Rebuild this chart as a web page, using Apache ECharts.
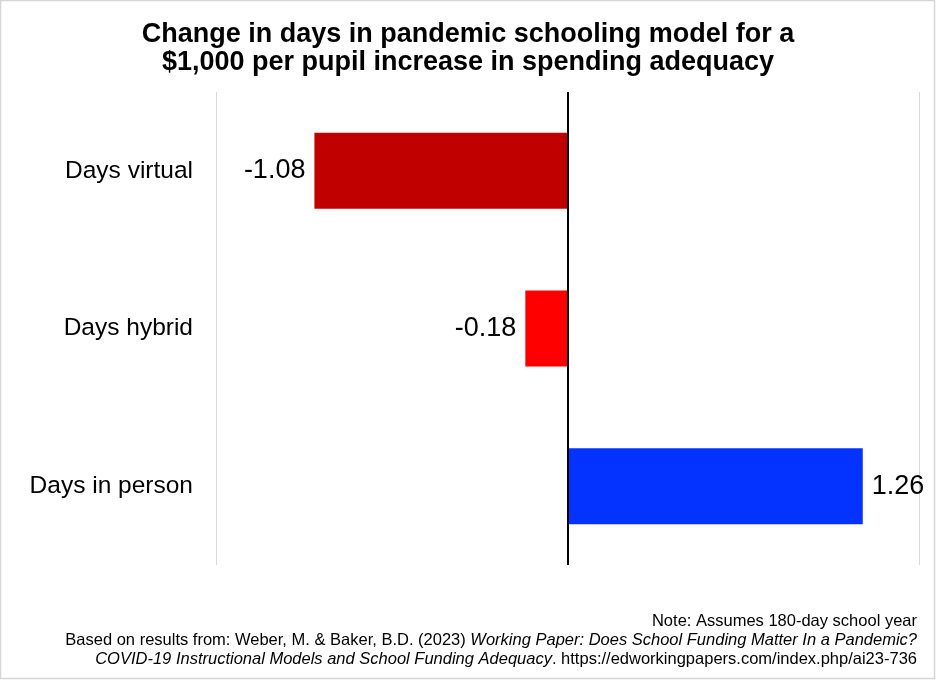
<!DOCTYPE html>
<html><head><meta charset="utf-8">
<script src="https://cdn.jsdelivr.net/npm/echarts@6/dist/echarts.min.js"></script>
<style>html,body{margin:0;padding:0;background:#fff}#c{width:936px;height:680px}</style>
</head><body><div id="c"></div>
<script>
const categories = ['Days virtual', 'Days hybrid', 'Days in person'];
const values = [-1.08, -0.18, 1.26];
const barColors = ['#C00000', '#FF0000', '#0433FF'];
const xTicks = [-1.5, 0, 1.5];

const chart = echarts.init(document.getElementById('c'), null, {renderer: 'canvas'});
const FF = 'Liberation Sans, Arial, sans-serif';
const FS = 16.5;
chart.setOption({
  animation: false,
  backgroundColor: '#fff',
  title: {
    text: 'Change in days in pandemic schooling model for a\n$1,000 per pupil increase in spending adequacy',
    left: 'center', top: 16,
    textStyle: {fontFamily: FF, fontSize: 27, fontWeight: 'bold', color: '#000', lineHeight: 28}
  },
  grid: {left: 216, right: 17, top: 92, bottom: 115, containLabel: false},
  xAxis: {
    type: 'value', min: xTicks[0], max: xTicks[2], interval: 1.5,
    axisLabel: {show: false}, axisTick: {show: false}, axisLine: {show: false},
    splitLine: {show: true, lineStyle: {color: ['#d9d9d9', 'rgba(0,0,0,0)', '#d9d9d9'], width: 1}}
  },
  yAxis: {
    type: 'category', data: categories, inverse: true,
    axisLine: {show: false, onZero: false}, axisTick: {show: false},
    axisLabel: {fontFamily: FF, fontSize: 24.5, color: '#000', margin: 23}
  },
  series: [{
    type: 'bar', barWidth: 76,
    data: values.map((v, i) => ({
      value: v,
      itemStyle: {color: barColors[i]},
      label: {position: v < 0 ? 'left' : 'right'}
    })),
    label: {show: true, fontFamily: FF, fontSize: 27, color: '#000', distance: 9,
      formatter: p => p.value.toFixed(2)},
    markLine: {
      silent: true, symbol: 'none', label: {show: false},
      lineStyle: {color: '#000', width: 2, type: 'solid'},
      data: [{xAxis: 0}]
    }
  }],
  graphic: [
    {type: 'rect', shape: {x: 0.5, y: 0.5, width: 934, height: 678},
     style: {fill: 'none', stroke: '#d6d6d6', lineWidth: 1.5}, silent: true},
    {type: 'text', right: 19, top: 613, style: {
      text: 'Note: Assumes 180-day school year', fontFamily: FF, fontSize: FS, fill: '#000', align: 'right'}},
    {type: 'text', right: 19, top: 632, style: {
      text: '{n|Based on results from: Weber, M. & Baker, B.D. (2023) }{i|Working Paper: Does School Funding Matter In a Pandemic?}',
      rich: {n: {fontFamily: FF, fontSize: FS, fill: '#000'}, i: {fontFamily: FF, fontSize: FS, fontStyle: 'italic', fill: '#000'}}}},
    {type: 'text', right: 19, top: 651, style: {
      text: '{i|COVID-19 Instructional Models and School Funding Adequacy}{n|. https://edworkingpapers.com/index.php/ai23-736}',
      rich: {n: {fontFamily: FF, fontSize: FS, fill: '#000'}, i: {fontFamily: FF, fontSize: FS, fontStyle: 'italic', fill: '#000'}}}}
  ]
});
</script></body></html>
